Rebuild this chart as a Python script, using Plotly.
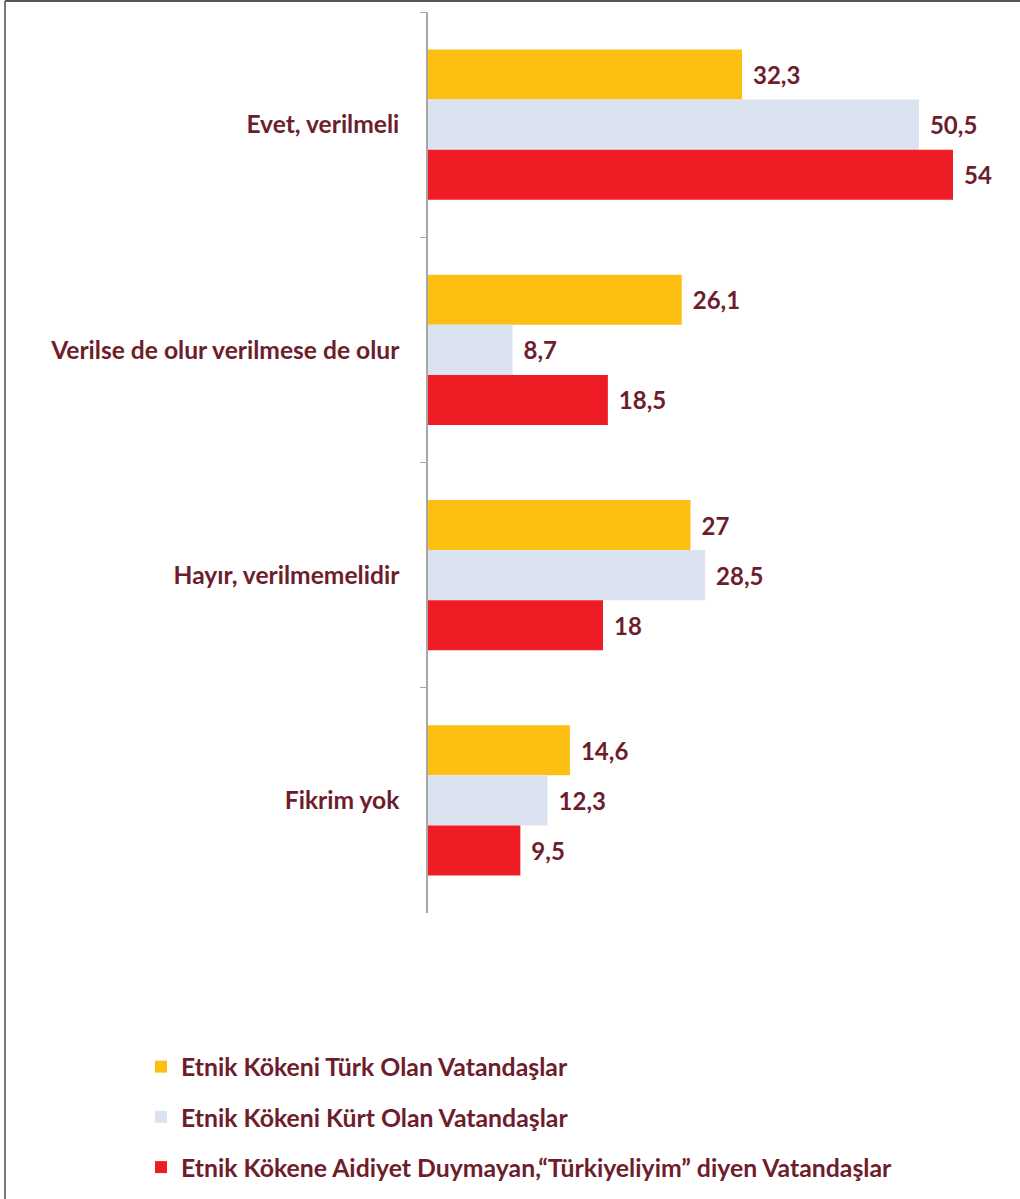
import plotly.graph_objects as go

categories = ["Evet, verilmeli", "Verilse de olur verilmese de olur", "Hayır, verilmemelidir", "Fikrim yok"]
series_names = [
    "Etnik Kökeni Türk Olan Vatandaşlar",
    "Etnik Kökeni Kürt Olan Vatandaşlar",
    "Etnik Kökene Aidiyet Duymayan,“Türkiyeliyim” diyen Vatandaşlar",
]
turk_values = [32.3, 26.1, 27, 14.6]
kurt_values = [50.5, 8.7, 28.5, 12.3]
turkiyeli_values = [54, 18.5, 18, 9.5]
series_values = [turk_values, kurt_values, turkiyeli_values]
colors = ["#FDBF12", "#DCE3F0", "#EE1C25"]

MAROON = "#6E1D2C"
FONT = "Lato"

def fmt(v):
    s = ("%g" % v)
    return "\u2004" + s.replace(".", ",")

fig = go.Figure()
for i, (name, vals, col) in enumerate(zip(series_names, series_values, colors)):
    fig.add_trace(go.Bar(
        y=categories, x=vals, name=name, orientation="h",
        marker=dict(color=col, line=dict(width=0)),
        text=[fmt(v) for v in vals], textposition="outside",
        textfont=dict(color=MAROON, size=24, family=FONT, weight="bold"),
        cliponaxis=False, legendgroup="g%d" % i,
    ))

W, H = 1020, 1199
L, R, T, B = 428, 20, 12, 286
px_per_unit = 9.722
xmax = (W - L - R) / px_per_unit

fig.update_layout(
    width=W, height=H,
    margin=dict(l=L, r=R, t=T, b=B, autoexpand=False),
    paper_bgcolor="white", plot_bgcolor="white",
    barmode="group", bargap=0.333, bargroupgap=0,
    xaxis=dict(range=[0, xmax], visible=False),
    yaxis=dict(
        autorange="reversed", type="category",
        showline=True, linecolor="#A6A6A6", linewidth=1.5,
        ticks="outside", tickson="boundaries", ticklen=6, tickcolor="#A6A6A6",
        tickfont=dict(color=MAROON, size=24.6, family=FONT, weight="bold"),
        ticklabelstandoff=22, showgrid=False, zeroline=False,
    ),
    legend=dict(
        xref="container", yref="container",
        x=141 / W, y=1 - 1044 / H, xanchor="left", yanchor="top",
        orientation="v", traceorder="grouped", tracegroupgap=15,
        font=dict(color=MAROON, size=24.8, family=FONT, weight="bold"),
        bgcolor="rgba(0,0,0,0)",
    ),
    showlegend=True,
)

# image frame (top and left edges)
def xp(px):
    return (px - L) / (W - L - R)

def yp(py):
    return (H - B - py) / (H - T - B)

fig.add_shape(type="line", xref="paper", yref="paper",
              x0=xp(5), x1=xp(W), y0=yp(1), y1=yp(1),
              line=dict(color="#555555", width=2))
fig.add_shape(type="line", xref="paper", yref="paper",
              x0=xp(5), x1=xp(5), y0=yp(1), y1=yp(H),
              line=dict(color="#777777", width=2))

fig.write_html(
    "out.html",
    config={"displayModeBar": False},
    post_script=(
        "document.body.style.margin='0';"
        "document.body.style.padding='0';"
        "document.documentElement.style.overflow='hidden';"
        "document.body.style.overflow='hidden';"
        "document.body.style.background='white';"
    ),
)
